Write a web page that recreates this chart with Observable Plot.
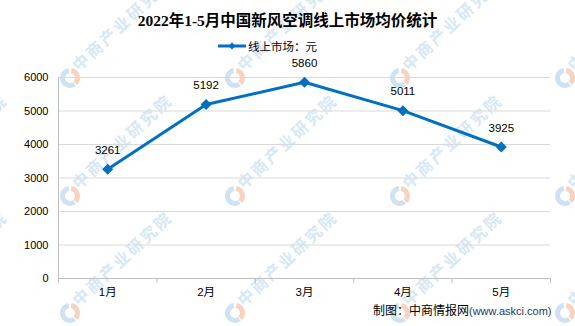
<!DOCTYPE html>
<html><head><meta charset="utf-8">
<script src="https://cdn.jsdelivr.net/npm/d3@7"></script>
<script src="https://cdn.jsdelivr.net/npm/@observablehq/plot@0.6"></script>
<style>
body{margin:0;background:#fff;}
#wrap{position:relative;width:575px;height:326px;overflow:hidden;font-family:"Liberation Sans","Noto Sans CJK SC",sans-serif;}
#title{position:absolute;top:8px;left:0;width:575px;text-align:center;font:bold 15.5px "Liberation Serif","Noto Sans CJK SC",serif;color:#000;}
#legend{position:absolute;top:38px;left:218px;font-size:11.5px;color:#000;display:flex;align-items:center;}
#legend svg{margin-right:2px;}
#caption{position:absolute;top:301px;left:373px;font-size:12px;color:#000;white-space:nowrap;}
#caption span{font-size:11px;color:#1f3864;}
#chart,#wm{position:absolute;top:0;left:0;}
</style></head>
<body><div id="wrap">
<svg id="wm" width="575" height="326"></svg>
<div id="chart"></div>
<div id="title">2022年1-5月中国新风空调线上市场均价统计</div>
<div id="legend"><svg width="28" height="10"><line x1="0" y1="5" x2="28" y2="5" stroke="#0070c0" stroke-width="3"/><path d="M14,1.5 L17.5,5 L14,8.5 L10.5,5 Z" fill="#0070c0"/></svg>线上市场：元</div>
<div id="caption">制图：中商情报网<span>(www.askci.com)</span></div>
</div>
<script>
const months = ["1月","2月","3月","4月","5月"];
const prices = [3261, 5192, 5860, 5011, 3925];
const yTicks = [0,1000,2000,3000,4000,5000,6000];
const watermark = "中商产业研究院";

// background watermark tiling
const wm = d3.select("#wm");
const wmX = [-95, 70, 235, 400, 565], wmY = [-41, 78, 196, 313];
for (const x0 of wmX) for (const y0 of wmY) {
  const g = wm.append("g").attr("transform", `translate(${x0},${y0})`);
  const arc = d3.arc().innerRadius(5).outerRadius(10);
  g.append("path").attr("d", arc({startAngle:Math.PI*0.05, endAngle:Math.PI*0.75})).attr("fill","#f9d3c2");
  g.append("path").attr("d", arc({startAngle:Math.PI*0.8, endAngle:Math.PI*1.95})).attr("fill","#cfe2f3");
  g.append("text").attr("transform","translate(9,-6) rotate(-43)")
    .attr("font-family","Noto Sans CJK SC").attr("font-weight","bold").attr("font-size",16)
    .attr("letter-spacing",2.5).attr("fill","#d6e7f6").text(watermark);
}

const data = months.map((m,i)=>({i:i+0.5, m, v:prices[i]}));
const color = "#0070c0";
const plot = Plot.plot({
  width:575, height:326,
  marginLeft:58, marginRight:25, marginTop:77, marginBottom:48,
  style:{fontFamily:"Liberation Sans, Noto Sans CJK SC, sans-serif", fontSize:"11px", color:"#000", background:"transparent"},
  x:{domain:[0,5], axis:null},
  y:{domain:[0,6000], axis:null},
  marks:[
    Plot.ruleY(yTicks.slice(1), {stroke:"#d9d9d9", strokeWidth:1}),
    Plot.ruleX([0], {stroke:"#bfbfbf"}),
    Plot.ruleY([0], {stroke:"#bfbfbf"}),
    Plot.axisY({ticks:yTicks, tickSize:0, tickPadding:10, fontSize:11, label:null, tickFormat:d=>String(d)}),
    Plot.axisX({ticks:[0,1,2,3,4,5], tickSize:5, label:null, tickFormat:()=>"", stroke:"#bfbfbf"}),
    Plot.axisX({ticks:data.map(d=>d.i), tickSize:0, tickPadding:9, fontSize:11.5, label:null, tickFormat:(d)=>months[Math.floor(d)]}),
    Plot.line(data, {x:"i", y:"v", stroke:color, strokeWidth:3}),
    Plot.dot(data, {x:"i", y:"v", symbol:"diamond2", r:4, fill:color, stroke:color}),
    Plot.text(data, {x:"i", y:"v", text:d=>String(d.v), dy:-19, fontSize:11.5, fill:"#000"})
  ]
});
document.getElementById("chart").appendChild(plot);
</script>
</body></html>
